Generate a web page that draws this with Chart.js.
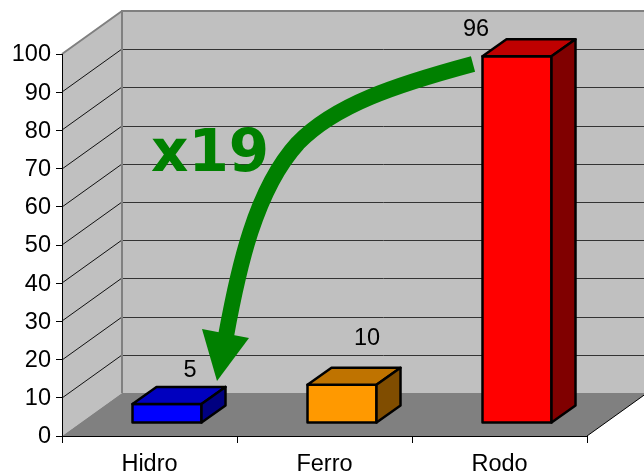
<!DOCTYPE html>
<html>
<head>
<meta charset="utf-8">
<title>x19</title>
<style>
  html, body { margin: 0; padding: 0; background: #fff; }
  canvas { display: block; }
</style>
<script src="https://cdn.jsdelivr.net/npm/chart.js@4"></script>
</head>
<body>
<canvas id="chart" width="644" height="473"></canvas>
<script>
const categories = ["Hidro", "Ferro", "Rodo"];
const values = [5, 10, 96];
const barColors = [[0, 0, 255], [255, 153, 0], [255, 0, 0]];

// depth of the box the bars stand in, and of each bar
const WALL_DX = 60, WALL_DY = -43;
const BAR_SHIFT_X = 17.5, BAR_SHIFT_Y = -13;
const BAR_DX = 24, BAR_DY = -17;
// value labels float away from their bars
const LABEL_OFFSETS = [[23, -33.5], [25, -46.5], [-41, -26.5]];

const rgb = (c, k) => `rgb(${c.map((v) => Math.round(v * k)).join(",")})`;

function poly(ctx, pts, fill, stroke, width) {
  ctx.beginPath();
  pts.forEach((p, i) => (i ? ctx.lineTo(p[0], p[1]) : ctx.moveTo(p[0], p[1])));
  ctx.closePath();
  if (fill) { ctx.fillStyle = fill; ctx.fill(); }
  if (stroke) { ctx.strokeStyle = stroke; ctx.lineWidth = width; ctx.stroke(); }
}

const box3d = {
  id: "box3d",
  // side wall, back wall, floor and their gridlines
  beforeDatasetsDraw(chart) {
    const { ctx, chartArea: a, scales: { y } } = chart;
    const y0 = y.getPixelForValue(0), yTop = y.getPixelForValue(100);
    const bx = a.left + WALL_DX, far = a.right + WALL_DX;
    ctx.save();
    poly(ctx, [[bx, y0 + WALL_DY], [bx, yTop + WALL_DY], [far, yTop + WALL_DY], [far, y0 + WALL_DY]], "#c0c0c0");
    poly(ctx, [[a.left, y0], [a.left, yTop], [bx, yTop + WALL_DY], [bx, y0 + WALL_DY]], "#c0c0c0");
    y.ticks.forEach((t) => {
      if (t.value === 0 || t.value === 100) return;
      const py = Math.round(y.getPixelForValue(t.value));
      ctx.lineWidth = 1;
      ctx.strokeStyle = "#111";
      ctx.beginPath();
      ctx.moveTo(a.left, py);
      ctx.lineTo(bx, py + WALL_DY);
      ctx.stroke();
      ctx.strokeStyle = "#333";
      ctx.beginPath();
      ctx.moveTo(bx, py + WALL_DY + 0.5);
      ctx.lineTo(far, py + WALL_DY + 0.5);
      ctx.stroke();
    });
    poly(ctx, [[a.left, y0], [a.right, y0], [far, y0 + WALL_DY], [bx, y0 + WALL_DY]], "#808080");
    ctx.strokeStyle = "#808080";
    ctx.lineWidth = 2;
    ctx.beginPath();
    ctx.moveTo(bx, y0 + WALL_DY);
    ctx.lineTo(bx, yTop + WALL_DY);
    ctx.lineTo(far, yTop + WALL_DY);
    ctx.moveTo(bx, yTop + WALL_DY);
    ctx.lineTo(a.left, yTop);
    ctx.stroke();
    ctx.strokeStyle = "#000";
    ctx.lineWidth = 1;
    ctx.beginPath();
    ctx.moveTo(a.right, y0);
    ctx.lineTo(far, y0 + WALL_DY);
    ctx.stroke();
    // axis lines again, the walls were painted over them
    ctx.beginPath();
    ctx.moveTo(a.left + 0.5, yTop);
    ctx.lineTo(a.left + 0.5, y0 + 0.5);
    ctx.lineTo(a.right, y0 + 0.5);
    ctx.stroke();
    ctx.restore();
  },
  beforeDatasetDraw(chart) {
    chart.ctx.save();
    chart.ctx.translate(BAR_SHIFT_X, BAR_SHIFT_Y);
  },
  // top and side faces on the bars Chart.js just drew; outlines sit on the value edges
  afterDatasetDraw(chart, args) {
    const { ctx } = chart;
    ctx.lineJoin = "round";
    args.meta.data.forEach((bar, i) => {
      const { x, y, base, width } = bar.getProps(["x", "y", "base", "width"], true);
      const l = x - width / 2, r = x + width / 2;
      poly(ctx, [[l, y], [r, y], [r, base], [l, base]], null, "#000", 2.5);
      poly(ctx, [[l, y], [l + BAR_DX, y + BAR_DY], [r + BAR_DX, y + BAR_DY], [r, y]], rgb(barColors[i], 0.75), "#000", 2.5);
      poly(ctx, [[r, y], [r + BAR_DX, y + BAR_DY], [r + BAR_DX, base + BAR_DY], [r, base]], rgb(barColors[i], 0.5), "#000", 2.5);
    });
    ctx.restore();
  },
  afterDatasetsDraw(chart) {
    const { ctx } = chart;
    const meta = chart.getDatasetMeta(0);
    ctx.save();
    ctx.font = "23.5px 'Liberation Sans'";
    ctx.fillStyle = "#000";
    ctx.textAlign = "center";
    ctx.textBaseline = "middle";
    meta.data.forEach((bar, i) => {
      const o = LABEL_OFFSETS[i];
      ctx.fillText(String(values[i]), bar.x + BAR_SHIFT_X + o[0], bar.y + BAR_SHIFT_Y + o[1]);
    });

    // the x19 callout and its arrow
    ctx.fillStyle = ctx.strokeStyle = "#008000";
    ctx.font = "bold 58px 'DejaVu Sans'";
    ctx.textAlign = "left";
    ctx.textBaseline = "alphabetic";
    ctx.fillText("x19", 151, 171);
    ctx.lineWidth = 16;
    ctx.beginPath();
    ctx.moveTo(473, 64);
    ctx.bezierCurveTo(395, 85, 335, 105, 298, 143);
    ctx.bezierCurveTo(255, 190, 238, 270, 226, 336);
    ctx.stroke();
    poly(ctx, [[202, 329], [249, 338], [217, 381]], "#008000");
    ctx.restore();
  },
};

new Chart(document.getElementById("chart"), {
  type: "bar",
  data: {
    labels: categories,
    datasets: [{
      data: values,
      backgroundColor: barColors.map((c) => rgb(c, 1)),
      borderWidth: 0,
      barThickness: 69,
      clip: false,
    }],
  },
  options: {
    responsive: false,
    animation: false,
    layout: { padding: { top: 54, right: 57, left: 0, bottom: 0 } },
    plugins: { legend: { display: false }, tooltip: { enabled: false } },
    scales: {
      x: {
        afterFit: (s) => { s.height = 37; },
        border: { color: "#000" },
        grid: { drawOnChartArea: false, color: "#000", tickLength: 7 },
        ticks: { color: "#000", font: { family: "'Liberation Sans'", size: 23.5 }, padding: 7, maxRotation: 0 },
      },
      y: {
        min: 0,
        max: 100,
        afterFit: (s) => { s.width = 62; },
        border: { color: "#000" },
        grid: { drawOnChartArea: false, color: "#000", tickLength: 6 },
        ticks: { stepSize: 10, color: "#000", font: { family: "'Liberation Sans'", size: 23.5 }, padding: 5, labelOffset: 1 },
      },
    },
  },
  plugins: [box3d],
});
</script>
</body>
</html>
